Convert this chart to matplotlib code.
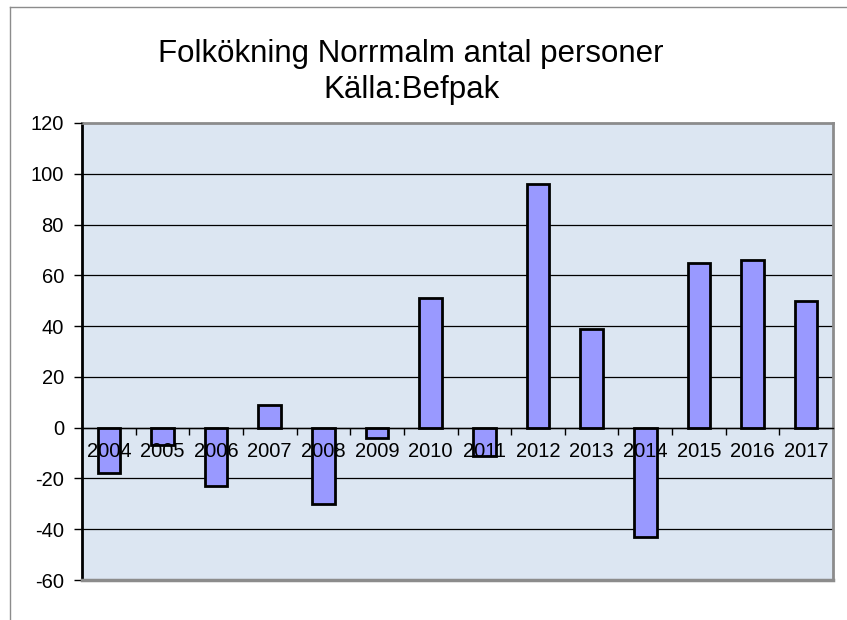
import matplotlib.pyplot as plt
import numpy as np
from matplotlib.lines import Line2D

plt.rcParams['font.family'] = ['Liberation Sans', 'DejaVu Sans']

years = ['2004', '2005', '2006', '2007', '2008', '2009', '2010',
         '2011', '2012', '2013', '2014', '2015', '2016', '2017']
values = [-18, -7, -23, 9, -30, -4, 51, -11, 96, 39, -43, 65, 66, 50]
yticks = [-60, -40, -20, 0, 20, 40, 60, 80, 100, 120]

W, H = 847, 620
fig = plt.figure(figsize=(W / 100, H / 100), dpi=100)
ax = fig.add_axes([82 / W, 1 - 580 / H, (833 - 82) / W, (580 - 123) / H])
ax.set_facecolor('#dce6f2')

x = np.arange(len(years))
ax.bar(x, values, width=0.42, color='#9999ff', edgecolor='black', linewidth=2, zorder=2)

# grid lines below bars
for v in yticks[1:-1]:
    ax.axhline(v, color='black', linewidth=0.9, zorder=0.5)

ax.set_xlim(-0.5, len(years) - 0.5)
ax.set_ylim(-60, 120)
ax.set_yticks(yticks)
ax.set_yticklabels([str(v) for v in yticks], fontsize=14.5)

# category axis crosses at zero, labels drawn over the bars
ax.set_axisbelow(False)
ax.spines['bottom'].set_position(('data', 0))
ax.spines['bottom'].set_color('black')
ax.spines['bottom'].set_linewidth(1)
ax.spines['left'].set_color('black')
ax.spines['left'].set_linewidth(2)
for s in ['top', 'right']:
    ax.spines[s].set_color('#8c8c8c')
    ax.spines[s].set_linewidth(2)
ax.plot([0, 1], [0, 0], transform=ax.transAxes, color='#8c8c8c', linewidth=2.5,
        clip_on=False, zorder=3)

ax.set_xticks(x)
ax.set_xticklabels(years, fontsize=14.5)
ax.set_xticks(np.arange(0.5, len(years) - 0.5, 1), minor=True)
ax.tick_params(axis='x', which='major', length=0, pad=10)
ax.tick_params(axis='x', which='minor', length=5, width=1, direction='out')
ax.tick_params(axis='y', length=6, width=1, direction='out', pad=7)

fig.text(411 / W, 1 - 62 / H, 'Folkökning Norrmalm antal personer', ha='center', va='baseline',
         fontsize=22.5)
fig.text(411 / W, 1 - 98 / H, 'Källa:Befpak', ha='center', va='baseline', fontsize=22.5)

# outer chart frame (top and left edges)
fig.add_artist(Line2D([10 / W, 1], [1 - 7 / H, 1 - 7 / H], color='#8c8c8c', linewidth=1))
fig.add_artist(Line2D([10 / W, 10 / W], [0, 1 - 7 / H], color='#8c8c8c', linewidth=1))

fig.savefig('out.png', dpi=100)
